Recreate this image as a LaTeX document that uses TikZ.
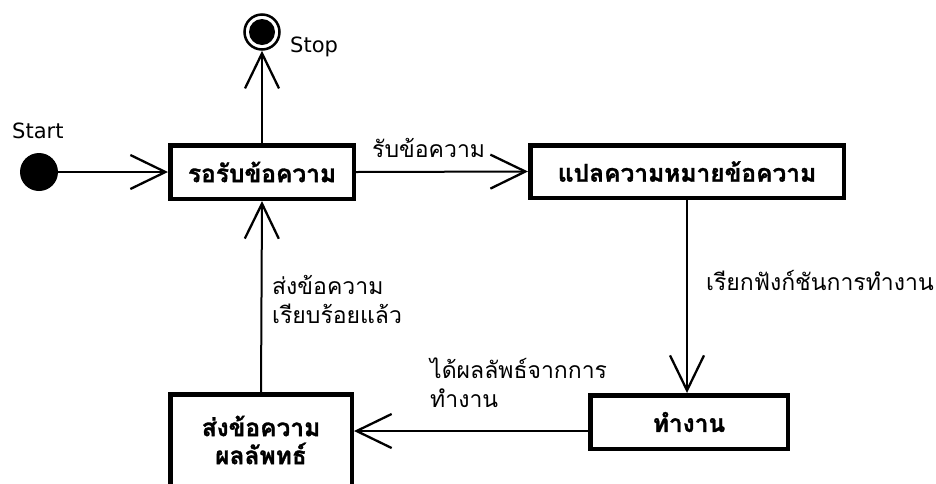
\documentclass[tikz,border=0pt]{standalone}
\usepackage{fontspec}
\setmainfont{DejaVu Sans}
\newfontfamily\thai[Script=Thai]{Loma}
\newfontfamily\thaib[Script=Thai,FakeBold=1.2]{Loma Bold}
\usetikzlibrary{arrows.meta}
\begin{document}
\begin{tikzpicture}[x=1pt,y=-1pt,
  statebox/.style={draw, line width=4.5pt, font=\thaib\fontsize{24.5}{28}\selectfont, inner sep=0pt, align=center},
  arr/.style={line width=2pt, -{Straight Barb[length=35pt,width=34pt,line width=2.3pt]}},
  lbl/.style={font=\thai\fontsize{23}{29}\selectfont, inner sep=0pt, align=left},
  latin/.style={font=\fontsize{21}{24}\selectfont, inner sep=0pt}]
\useasboundingbox (0,0) rectangle (936,483);
\clip (0,0) rectangle (936,483);
% start / stop
\node[circle, fill=black, minimum size=38pt, inner sep=0pt] (start) at (39,172) {};
\node[circle, draw, line width=2.5pt, minimum size=35pt, inner sep=0pt] (stop) at (262,32) {};
\fill (stop.center) circle (13pt);
\node[latin, anchor=base west] (startlbl) at (12,138) {Start};
\node[latin, anchor=base west] (stoplbl) at (290,52) {Stop};
% states
\node[statebox, minimum width=183.5pt, minimum height=53.5pt] (wait) at (262,172) {รอรับข้อความ};
\node[statebox, minimum width=313.5pt, minimum height=52.5pt] (parse) at (687,171.5) {แปลความหมายข้อความ};
\node[statebox, minimum width=197.5pt, minimum height=53.5pt] (work) at (689,422) {ทำงาน};
\node[statebox, minimum width=181.5pt, minimum height=91.5pt] (send) at (261,440) {ส่งข้อความ\\ผลลัพทธ์};
% connectors
\coordinate (hy) at (0,431);
\draw[arr] (start) -- (wait.west);
\draw[arr] (wait.north) -- (stop.south);
\draw[arr] (wait.east) -- (parse.west);
\draw[arr] (parse.south) -- (parse.south |- work.north);
\draw[arr] (work.west |- hy) -- (send.east |- hy);
\draw[arr] (send.north) -- (wait.south);
% labels
\node[lbl, anchor=base west] (l1) at (372,157) {รับข้อความ};
\node[lbl, anchor=base west] (l2) at (706,290) {เรียกฟังก์ชันการทำงาน};
\node[lbl, anchor=north west] (l3) at (272,275) {ส่งข้อความ\\เรียบร้อยแล้ว};
\node[lbl, anchor=north west] (l4) at (430,358) {ได้ผลลัพธ์จากการ\\ทำงาน};
\end{tikzpicture}
\end{document}
